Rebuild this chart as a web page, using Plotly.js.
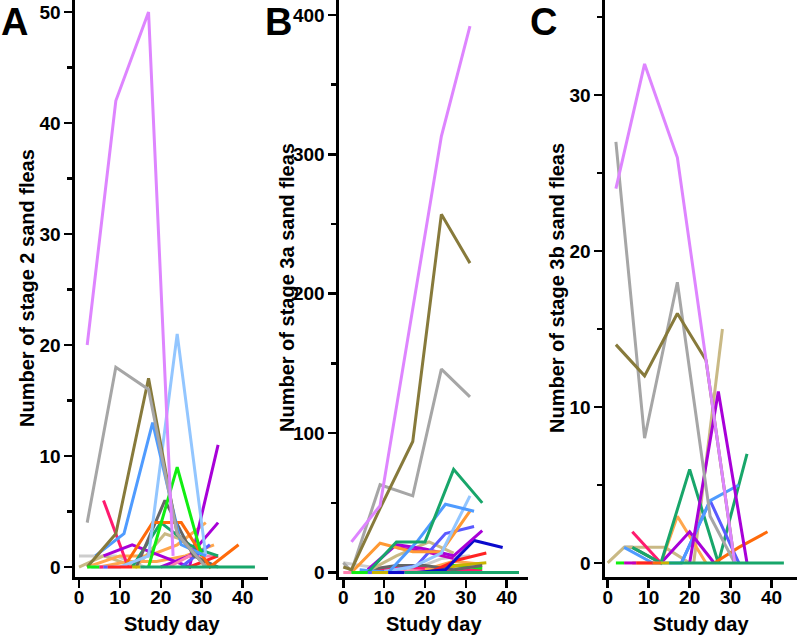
<!DOCTYPE html>
<html><head><meta charset="utf-8">
<script src="https://cdn.plot.ly/plotly-3.0.1.min.js"></script>
<style>html,body{margin:0;padding:0;background:#fff}#chart{width:798px;height:636px}</style>
</head><body><div id="chart"></div>
<script>
// ---------- DATA: [study day, number of sand fleas] ----------
// Panel A: stage 2
const A_lightgray   = [[0,1],[9,1],[16,0]];
const A_tan         = [[0,0],[6,1],[14,0],[21,3],[25,2.5],[32,0]];
const A_lightorange = [[2,0],[10,1],[17,1],[24,2],[31,4]];
const A_lightorange2= [[5,0],[12,0.5],[19,0.5],[26,1],[33,2]];
const A_crimson     = [[6,6],[12,0]];
const A_purple      = [[6,1],[13,2],[20,1],[27,0],[34,11]];
const A_purple2     = [[20,0],[27,1],[34,4]];
const A_pink        = [[22,0],[27,1],[34,1]];
const A_red         = [[27,0],[34,1]];
const A_blueviolet  = [[25,0],[32,2]];
const A_emerald     = [[13,0],[20,4],[27,2],[30,1.5],[34,1]];
const A_darkgray    = [[14,0],[21,6],[28,1],[34,0]];
const A_orangered   = [[11,0],[18,4],[25,4],[32,0],[39,2]];
const A_lime        = [[17,0],[24,9],[30,1]];
const A_lightblue   = [[3,0],[10,0],[17,1],[24,21],[31,1]];
const A_blue        = [[4,1],[11,3],[18,13],[25,2],[31,1]];
const A_olive       = [[2,0],[9,3],[17,17],[24,3],[31,0]];
const A_gray        = [[2,4],[9,18],[17,16],[24,3],[31,0]];
const A_violet      = [[2,20],[9,42],[17,50],[23,1]];
const A_zeroLime    = [[2,0],[5,0]];
const A_zeroPink    = [[5,0],[6,0]];
const A_zeroBlue    = [[6,0],[7,0]];
const A_zeroRed     = [[7,0],[13,0]];
const A_zeroYellow  = [[13,0],[15,0]];
const A_zeroEmerald = [[15,0],[43,0]];

// Panel B: stage 3a
const B_lightgray   = [[0,7],[2,6],[9,3],[17,2],[24,10],[31,12]];
const B_pink        = [[10,0],[17,1],[24,2],[31,3]];
const B_crimson     = [[6,0],[13,4],[20,3],[27,1],[34,2]];
const B_lime        = [[20,0],[27,5],[34,3]];
const B_lightorange2= [[20,2],[27,8],[34,6]];
const B_yellow      = [[21,0],[28,5],[35,7]];
const B_darkgray    = [[6,2],[13,5],[20,5],[27,2],[34,5]];
const B_red         = [[21,0],[28,9],[35,14]];
const B_darkblue    = [[18,0],[25,2],[32,23],[39,18]];
const B_tan         = [[6,1],[13,12],[21,22],[24,18],[27,14]];
const B_magenta     = [[13,18],[20,15],[27,10]];
const B_purple      = [[6,2],[13,20],[20,17],[27,12],[34,30]];
const B_blueviolet  = [[4,0],[11,1],[18,5],[25,28],[32,33]];
const B_orange      = [[2,0],[9,21],[17,15],[24,15],[31,44]];
const B_lightblue   = [[10,1],[17,4],[24,14],[31,55]];
const B_blue        = [[4,2],[11,0],[18,22],[25,49],[32,44]];
const B_emerald     = [[6,0],[13,22],[20,22],[27,74],[34,50]];
const B_gray        = [[0,7],[2,1],[9,63],[17,55],[24,146],[31,126]];
const B_olive       = [[0,4],[2,2],[9,46],[17,94],[24,257],[31,222]];
const B_violet      = [[2,22],[9,48],[24,313],[31,392]];
const B_zeroPink    = [[0,0],[2,0]];
const B_zeroLime    = [[2,0],[6,0]];
const B_zeroBlue    = [[6,0],[7,0]];
const B_zeroYellow  = [[7,0],[11,0]];
const B_zeroDarkblue= [[11,0],[15,0]];
const B_zeroEmerald = [[15,0],[43,0]];

// Panel C: stage 3b
const C_darkgray    = [[4,1],[6,1],[13,0]];
const C_tan         = [[0,0],[4,1],[14,1],[20,0]];
const C_tan2        = [[21,0],[28,15]];
const C_crimson     = [[6,2],[13,0]];
const C_orange      = [[6,0],[13,0],[17,3],[24,0]];
const C_purple      = [[13,0],[20,2],[26,0]];
const C_emerald     = [[6,1],[13,0],[20,6],[27,0],[34,7]];
const C_blueviolet  = [[18,0],[25,4],[32,0]];
const C_blue        = [[4,1],[11,0],[18,0],[25,4],[32,5]];
const C_orangered   = [[26,0],[32,1],[39,2]];
const C_magenta     = [[20,0],[27,11],[34,0]];
const C_gray        = [[2,27],[9,8],[17,18],[25,3],[31,0]];
const C_olive       = [[2,14],[9,12],[17,16],[24,13],[31,0]];
const C_violet      = [[2,24],[9,32],[17,26],[24,13],[31,0]];
const C_zeroLime    = [[2,0],[4,0]];
const C_zeroMagenta = [[4,0],[7,0]];
const C_zeroRed     = [[7,0],[11,0]];
const C_zeroOrange  = [[11,0],[13,0]];
const C_zeroYellow  = [[13,0],[15,0]];
const C_zeroEmerald = [[15,0],[43,0]];

const yTickA = [0,10,20,30,40,50];
const yTickB = [0,100,200,300,400];
const yTickC = [0,10,20,30];
const xTicks = [0,10,20,30,40];

// ---------- STYLE ----------
const COLORS = {
  violet:'#DE85FF', gray:'#A6A6A6', olive:'#877A3B', blue:'#4F9BFF', lightblue:'#93C6FF',
  lime:'#11EE11', darkgray:'#666666', orangered:'#FF6A0A', emerald:'#18A66A', purple:'#A800D8',
  crimson:'#FF1A6E', lightorange:'#FFA64D', lightgray:'#CDCDCD', tan:'#C9B985', blueviolet:'#5A5AFF',
  darkblue:'#0A0ACC', red:'#FF2222', yellow:'#C8B400', pink:'#FF80B0', magenta:'#C000C0', orange:'#FF9933'
};
const FONT = 'Arial, "Liberation Sans", Helvetica, sans-serif';

const panels = [
  ['x','y',[
    [A_lightgray,'lightgray'],[A_tan,'tan'],[A_lightorange,'lightorange'],[A_lightorange2,'lightorange'],
    [A_crimson,'crimson'],[A_purple,'purple'],[A_purple2,'purple'],[A_pink,'pink'],[A_red,'red'],
    [A_blueviolet,'blueviolet'],[A_emerald,'emerald'],[A_darkgray,'darkgray'],[A_orangered,'orangered'],
    [A_lime,'lime'],[A_lightblue,'lightblue'],[A_blue,'blue'],[A_olive,'olive'],[A_gray,'gray'],[A_violet,'violet'],
    [A_zeroLime,'lime'],[A_zeroPink,'crimson'],[A_zeroBlue,'blueviolet'],[A_zeroRed,'red'],[A_zeroYellow,'yellow'],[A_zeroEmerald,'emerald']
  ]],
  ['x2','y2',[
    [B_lightgray,'lightgray'],[B_pink,'pink'],[B_crimson,'crimson'],[B_lime,'lime'],[B_lightorange2,'lightorange'],
    [B_yellow,'yellow'],[B_darkgray,'darkgray'],[B_red,'red'],[B_darkblue,'darkblue'],[B_tan,'tan'],
    [B_magenta,'magenta'],[B_purple,'purple'],[B_blueviolet,'blueviolet'],[B_orange,'orange'],[B_lightblue,'lightblue'],
    [B_blue,'blue'],[B_emerald,'emerald'],[B_gray,'gray'],[B_olive,'olive'],[B_violet,'violet'],
    [B_zeroPink,'pink'],[B_zeroLime,'lime'],[B_zeroBlue,'blueviolet'],[B_zeroYellow,'yellow'],[B_zeroDarkblue,'darkblue'],[B_zeroEmerald,'emerald']
  ]],
  ['x3','y3',[
    [C_darkgray,'darkgray'],[C_tan,'tan'],[C_tan2,'tan'],[C_crimson,'crimson'],[C_orange,'lightorange'],
    [C_purple,'purple'],[C_emerald,'emerald'],[C_blueviolet,'blueviolet'],[C_blue,'blue'],[C_orangered,'orangered'],
    [C_magenta,'purple'],[C_gray,'gray'],[C_olive,'olive'],[C_violet,'violet'],
    [C_zeroLime,'lime'],[C_zeroMagenta,'magenta'],[C_zeroRed,'red'],[C_zeroOrange,'orangered'],[C_zeroYellow,'yellow'],[C_zeroEmerald,'emerald']
  ]]
];

const traces = [];
panels.forEach(([xa, ya, list]) => {
  list.forEach(([pts, c]) => {
    traces.push({
      type:'scatter', mode:'lines', xaxis:xa, yaxis:ya,
      x: pts.map(p => p[0]), y: pts.map(p => p[1]),
      line:{color:COLORS[c], width:3}, showlegend:false, hoverinfo:'skip'
    });
  });
});

const W = 798, H = 636;
const px = v => v / W, py = v => 1 - v / H;
const yDom = [py(577), 1];
const bold = arr => arr.map(v => '<b>' + v + '</b>');
const tickFont = {family:FONT, size:19, color:'#000'};
const axBase = {showline:true, linewidth:2.6, linecolor:'#000', ticks:'outside', ticklen:8, tickwidth:2.6,
  tickcolor:'#000', showgrid:false, zeroline:false, tickfont:tickFont, fixedrange:true};
function xax(dom, range, anchor){
  return Object.assign({}, axBase, {domain:dom, range, anchor, tickmode:'array', tickvals:xTicks, ticktext:bold(xTicks), ticklabelstandoff:-6});
}
function yax(dom, range, anchor, vals, minorStep){
  return Object.assign({}, axBase, {domain:dom, range, anchor, tickmode:'array', tickvals:vals, ticktext:bold(vals),
    minor:{tickmode:'linear', tick0:0, dtick:minorStep, ticks:'outside', ticklen:5, tickwidth:2.6, tickcolor:'#000', showgrid:false}});
}

const annFont = {family:FONT, size:20, color:'#000'};
const letterFont = {family:FONT, size:38, color:'#000'};
function ytitle(x, text){ return {xref:'paper', yref:'paper', x:px(x), y:py(288), text:'<b>'+text+'</b>', textangle:-90, showarrow:false, xanchor:'center', yanchor:'middle', font:annFont}; }
function xtitle(x){ return {xref:'paper', yref:'paper', x:px(x), y:py(624), text:'<b>Study day</b>', showarrow:false, xanchor:'center', yanchor:'middle', font:annFont}; }
function letter(x, t){ return {xref:'paper', yref:'paper', x:px(x), y:1, text:'<b>'+t+'</b>', showarrow:false, xanchor:'left', yanchor:'top', borderpad:0, font:letterFont}; }

const layout = {
  width:W, height:H, margin:{l:0,r:0,t:0,b:0}, paper_bgcolor:'#fff', plot_bgcolor:'#fff', showlegend:false,
  xaxis:  xax([px(75), px(268)], [-0.98, 46.2], 'y'),
  yaxis:  yax(yDom, [-0.9, 51.08], 'x', yTickA, 5),
  xaxis2: xax([px(339), px(528)], [-1.05, 45.2], 'y2'),
  yaxis2: yax(yDom, [-3.2, 410.8], 'x2', yTickB, 50),
  xaxis3: xax([px(605), px(797)], [-0.66, 46.2], 'y3'),
  yaxis3: yax(yDom, [-0.9, 36.1], 'x3', yTickC, 5),
  annotations:[
    ytitle(27,'Number of stage 2 sand fleas'), ytitle(287,'Number of stage 3a sand fleas'), ytitle(557,'Number of stage 3b sand fleas'),
    xtitle(171.5), xtitle(433.5), xtitle(701),
    letter(0,'A'), letter(264,'B'), letter(529,'C')
  ]
};

Plotly.newPlot('chart', traces, layout, {staticPlot:true, displayModeBar:false});
</script>
</body></html>
